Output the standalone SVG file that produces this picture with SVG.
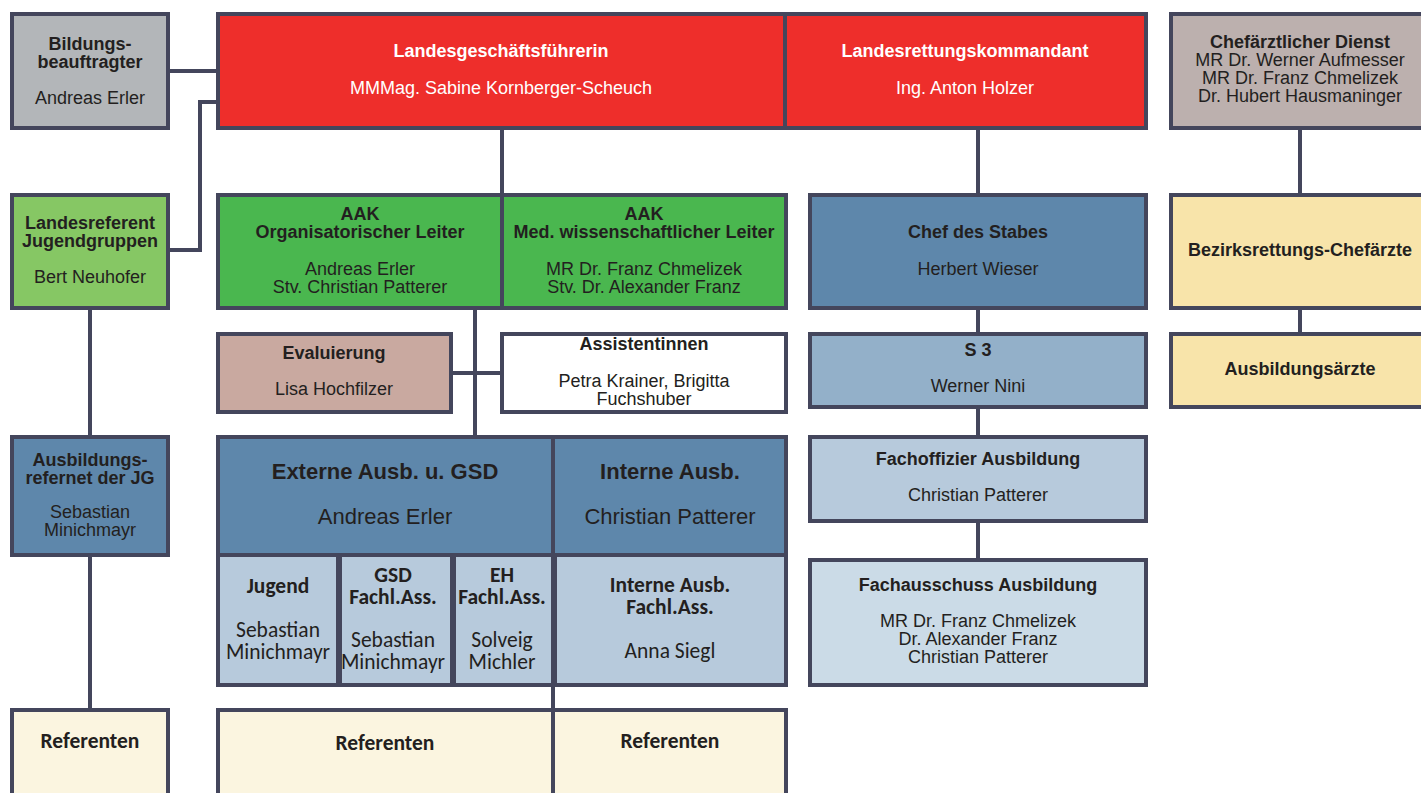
<svg xmlns="http://www.w3.org/2000/svg" width="1421" height="793" viewBox="0 0 1421 793">
<style>
.b{stroke:#44465c;stroke-width:4;}
.c{stroke:#44465c;stroke-width:4;fill:none;}
text{font-family:"Liberation Sans",Arial,sans-serif;font-size:18px;fill:#231f20;text-anchor:middle;}
.t{font-weight:bold;}
.w{fill:#ffffff;}
.L{font-size:22px;}
.k{font-family:Carlito,Calibri,Lato,"Open Sans",sans-serif;font-size:21.5px;}
</style>
<rect width="1421" height="793" fill="#ffffff"/>
<g id="connectors">
<path class="c" d="M168 71H218"/>
<path class="c" d="M168 250H200V102H218"/>
<path class="c" d="M502 128V195"/>
<path class="c" d="M978 128V195"/>
<path class="c" d="M1300 128V195"/>
<path class="c" d="M1300 308V334"/>
<path class="c" d="M978 308V334"/>
<path class="c" d="M978 407V437"/>
<path class="c" d="M978 521V560"/>
<path class="c" d="M90 308V437"/>
<path class="c" d="M90 555V710"/>
<path class="c" d="M475 308V437"/>
<path class="c" d="M451 373H502"/>
<path class="c" d="M553 685V710"/>
</g>
<g id="bildung">
<rect class="b" x="12" y="14" width="156" height="114" fill="#b3b6b9"/>
<text x="90" y="50" class="t">Bildungs-</text>
<text x="90" y="68" class="t">beauftragter</text>
<text x="90" y="104">Andreas Erler</text>
</g>
<g id="lgf">
<rect class="b" x="218" y="14" width="567" height="114" fill="#ee2e2b"/>
<text x="501" y="57" class="t w">Landesgeschäftsführerin</text>
<text x="501" y="94" class="w">MMMag. Sabine Kornberger-Scheuch</text>
</g>
<g id="lrk">
<rect class="b" x="785" y="14" width="361" height="114" fill="#ee2e2b"/>
<text x="965" y="57" class="t w">Landesrettungskommandant</text>
<text x="965" y="94" class="w">Ing. Anton Holzer</text>
</g>
<g id="chefarzt">
<rect class="b" x="1171" y="14" width="260" height="114" fill="#bcb0ae"/>
<text x="1300" y="48" class="t">Chefärztlicher Dienst</text>
<text x="1300" y="66">MR Dr. Werner Aufmesser</text>
<text x="1300" y="84">MR Dr. Franz Chmelizek</text>
<text x="1300" y="102">Dr. Hubert Hausmaninger</text>
</g>
<g id="landesreferent">
<rect class="b" x="12" y="195" width="156" height="113" fill="#86c764"/>
<text x="90" y="229" class="t">Landesreferent</text>
<text x="90" y="247" class="t">Jugendgruppen</text>
<text x="90" y="283">Bert Neuhofer</text>
</g>
<g id="aak-org">
<rect class="b" x="218" y="195" width="284" height="113" fill="#4ab74f"/>
<text x="360" y="220" class="t">AAK</text>
<text x="360" y="238" class="t">Organisatorischer Leiter</text>
<text x="360" y="275">Andreas Erler</text>
<text x="360" y="293">Stv. Christian Patterer</text>
</g>
<g id="aak-med">
<rect class="b" x="502" y="195" width="284" height="113" fill="#4ab74f"/>
<text x="644" y="220" class="t">AAK</text>
<text x="644" y="238" class="t">Med. wissenschaftlicher Leiter</text>
<text x="644" y="275">MR Dr. Franz Chmelizek</text>
<text x="644" y="293">Stv. Dr. Alexander Franz</text>
</g>
<g id="stab">
<rect class="b" x="810" y="195" width="336" height="113" fill="#5e87ab"/>
<text x="978" y="238" class="t">Chef des Stabes</text>
<text x="978" y="275">Herbert Wieser</text>
</g>
<g id="bezirk">
<rect class="b" x="1171" y="195" width="260" height="113" fill="#f8e4aa"/>
<text x="1300" y="256" class="t">Bezirksrettungs-Chefärzte</text>
</g>
<g id="evaluierung">
<rect class="b" x="218" y="334" width="233" height="78" fill="#c9a9a0"/>
<text x="334" y="359" class="t">Evaluierung</text>
<text x="334" y="395">Lisa Hochfilzer</text>
</g>
<g id="assistentinnen">
<rect class="b" x="502" y="334" width="284" height="78" fill="#ffffff"/>
<text x="644" y="350" class="t">Assistentinnen</text>
<text x="644" y="387">Petra Krainer, Brigitta</text>
<text x="644" y="405">Fuchshuber</text>
</g>
<g id="s3">
<rect class="b" x="810" y="334" width="336" height="73" fill="#93b0c9"/>
<text x="978" y="356" class="t">S 3</text>
<text x="978" y="392">Werner Nini</text>
</g>
<g id="ausbildungsaerzte">
<rect class="b" x="1171" y="334" width="260" height="73" fill="#f8e4aa"/>
<text x="1300" y="375" class="t">Ausbildungsärzte</text>
</g>
<g id="ausbref">
<rect class="b" x="12" y="437" width="156" height="118" fill="#5e87ab"/>
<text x="90" y="466" class="t">Ausbildungs-</text>
<text x="90" y="484" class="t">refernet der JG</text>
<text x="90" y="518">Sebastian</text>
<text x="90" y="536">Minichmayr</text>
</g>
<g id="externe">
<rect class="b" x="218" y="437" width="335" height="118" fill="#5e87ab"/>
<text x="385" y="479" class="t L">Externe Ausb. u. GSD</text>
<text x="385" y="524" class="L">Andreas Erler</text>
</g>
<g id="interne">
<rect class="b" x="553" y="437" width="233" height="118" fill="#5e87ab"/>
<text x="670" y="479" class="t L">Interne Ausb.</text>
<text x="670" y="524" class="L">Christian Patterer</text>
</g>
<g id="fachoffizier">
<rect class="b" x="810" y="437" width="336" height="84" fill="#b7cadc"/>
<text x="978" y="465" class="t">Fachoffizier Ausbildung</text>
<text x="978" y="501">Christian Patterer</text>
</g>
<g id="jugend">
<rect class="b" x="218" y="555" width="120" height="130" fill="#b7cadc"/>
<text x="278" y="593" class="t k">Jugend</text>
<text x="278" y="637" class="k">Sebastian</text>
<text x="278" y="659" class="k">Minichmayr</text>
</g>
<g id="gsd">
<rect class="b" x="340" y="555" width="112" height="130" fill="#b7cadc"/>
<text x="393" y="582" class="t k">GSD</text>
<text x="393" y="604" class="t k">Fachl.Ass.</text>
<text x="393" y="647" class="k">Sebastian</text>
<text x="393" y="669" class="k">Minichmayr</text>
</g>
<g id="eh">
<rect class="b" x="454" y="555" width="99" height="130" fill="#b7cadc"/>
<text x="502" y="582" class="t k">EH</text>
<text x="502" y="604" class="t k">Fachl.Ass.</text>
<text x="502" y="647" class="k">Solveig</text>
<text x="502" y="669" class="k">Michler</text>
</g>
<g id="interne-fach">
<rect class="b" x="555" y="555" width="231" height="130" fill="#b7cadc"/>
<text x="670" y="592" class="t k">Interne Ausb.</text>
<text x="670" y="614" class="t k">Fachl.Ass.</text>
<text x="670" y="658" class="k">Anna Siegl</text>
</g>
<g id="fachausschuss">
<rect class="b" x="810" y="560" width="336" height="125" fill="#cbdbe7"/>
<text x="978" y="591" class="t">Fachausschuss Ausbildung</text>
<text x="978" y="627">MR Dr. Franz Chmelizek</text>
<text x="978" y="645">Dr. Alexander Franz</text>
<text x="978" y="663">Christian Patterer</text>
</g>
<g id="ref-left">
<rect class="b" x="12" y="710" width="156" height="100" fill="#fbf5e0"/>
<text x="90" y="748" class="t k">Referenten</text>
</g>
<g id="ref-mid">
<rect class="b" x="218" y="710" width="335" height="100" fill="#fbf5e0"/>
<text x="385" y="750" class="t k">Referenten</text>
</g>
<g id="ref-right">
<rect class="b" x="553" y="710" width="233" height="100" fill="#fbf5e0"/>
<text x="670" y="748" class="t k">Referenten</text>
</g>
</svg>
